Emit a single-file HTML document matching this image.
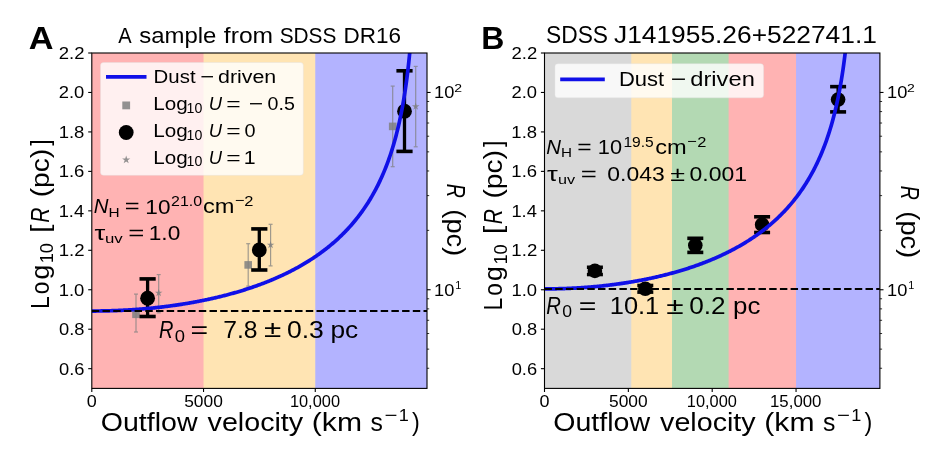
<!DOCTYPE html>
<html><head><meta charset="utf-8"><style>
html,body{margin:0;padding:0;background:#fff;overflow:hidden;}
svg{display:block;font-family:"Liberation Sans", sans-serif;font-kerning:none;will-change:transform;}
</style></head><body>
<svg width="934" height="452" viewBox="0 0 934 452">
<defs>
<clipPath id="clA"><rect x="91.8" y="53.0" width="335.2" height="335.4"/></clipPath>
<clipPath id="clB"><rect x="544.5" y="53.0" width="335.4" height="335.4"/></clipPath>
</defs>

<rect x="0" y="0" width="934" height="452" fill="#fff"/>
<rect x="91.80" y="53.00" width="335.20" height="335.40" fill="#ffb3b3"/>
<rect x="203.53" y="53.00" width="223.47" height="335.40" fill="#ffe4b3"/>
<rect x="315.27" y="53.00" width="111.73" height="335.40" fill="#b3b3ff"/>
<rect x="544.50" y="53.00" width="335.40" height="335.40" fill="#d9d9d9"/>
<rect x="631.30" y="53.00" width="248.60" height="335.40" fill="#ffe4b3"/>
<rect x="672.00" y="53.00" width="207.90" height="335.40" fill="#b3d9b3"/>
<rect x="728.60" y="53.00" width="151.30" height="335.40" fill="#ffb3b3"/>
<rect x="796.05" y="53.00" width="83.85" height="335.40" fill="#b3b3ff"/>
<g stroke="#808080" stroke-width="1.2" opacity="0.75"><line x1="136.00" y1="294.10" x2="136.00" y2="332.00"/><line x1="134.00" y1="294.10" x2="138.00" y2="294.10"/><line x1="134.00" y1="332.00" x2="138.00" y2="332.00"/></g>
<rect x="132.20" y="310.50" width="7.6" height="7.6" fill="#808080" opacity="0.85"/>
<g stroke="#808080" stroke-width="1.2" opacity="0.75"><line x1="248.20" y1="243.70" x2="248.20" y2="286.10"/><line x1="246.20" y1="243.70" x2="250.20" y2="243.70"/><line x1="246.20" y1="286.10" x2="250.20" y2="286.10"/></g>
<rect x="244.40" y="261.10" width="7.6" height="7.6" fill="#808080" opacity="0.85"/>
<g stroke="#808080" stroke-width="1.2" opacity="0.75"><line x1="392.70" y1="86.10" x2="392.70" y2="166.70"/><line x1="390.70" y1="86.10" x2="394.70" y2="86.10"/><line x1="390.70" y1="166.70" x2="394.70" y2="166.70"/></g>
<rect x="388.90" y="122.60" width="7.6" height="7.6" fill="#808080" opacity="0.85"/>
<g stroke="#808080" stroke-width="1.2" opacity="0.75"><line x1="158.70" y1="274.60" x2="158.70" y2="312.80"/><line x1="156.70" y1="274.60" x2="160.70" y2="274.60"/><line x1="156.70" y1="312.80" x2="160.70" y2="312.80"/></g>
<polygon points="158.70,288.90 159.59,291.67 162.50,291.66 160.15,293.37 161.05,296.14 158.70,294.42 156.35,296.14 157.25,293.37 154.90,291.66 157.81,291.67" fill="#808080" opacity="0.85"/>
<g stroke="#808080" stroke-width="1.2" opacity="0.75"><line x1="270.60" y1="224.30" x2="270.60" y2="265.90"/><line x1="268.60" y1="224.30" x2="272.60" y2="224.30"/><line x1="268.60" y1="265.90" x2="272.60" y2="265.90"/></g>
<polygon points="270.60,240.90 271.49,243.67 274.40,243.66 272.05,245.37 272.95,248.14 270.60,246.42 268.25,248.14 269.15,245.37 266.80,243.66 269.71,243.67" fill="#808080" opacity="0.85"/>
<g stroke="#808080" stroke-width="1.2" opacity="0.75"><line x1="415.70" y1="66.40" x2="415.70" y2="146.80"/><line x1="413.70" y1="66.40" x2="417.70" y2="66.40"/><line x1="413.70" y1="146.80" x2="417.70" y2="146.80"/></g>
<polygon points="415.70,102.50 416.59,105.27 419.50,105.26 417.15,106.97 418.05,109.74 415.70,108.02 413.35,109.74 414.25,106.97 411.90,105.26 414.81,105.27" fill="#808080" opacity="0.85"/>
<line x1="147.60" y1="316.50" x2="147.60" y2="278.90" stroke="#000" stroke-width="3.3"/>
<line x1="139.50" y1="316.50" x2="155.70" y2="316.50" stroke="#000" stroke-width="3.6"/>
<line x1="139.50" y1="278.90" x2="155.70" y2="278.90" stroke="#000" stroke-width="3.6"/>
<circle cx="147.60" cy="298.20" r="7.4" fill="#000"/>
<line x1="259.30" y1="270.00" x2="259.30" y2="228.90" stroke="#000" stroke-width="3.3"/>
<line x1="251.20" y1="270.00" x2="267.40" y2="270.00" stroke="#000" stroke-width="3.6"/>
<line x1="251.20" y1="228.90" x2="267.40" y2="228.90" stroke="#000" stroke-width="3.6"/>
<circle cx="259.30" cy="249.90" r="7.4" fill="#000"/>
<line x1="404.50" y1="151.40" x2="404.50" y2="70.80" stroke="#000" stroke-width="3.3"/>
<line x1="396.40" y1="151.40" x2="412.60" y2="151.40" stroke="#000" stroke-width="3.6"/>
<line x1="396.40" y1="70.80" x2="412.60" y2="70.80" stroke="#000" stroke-width="3.6"/>
<circle cx="404.50" cy="111.20" r="7.4" fill="#000"/>
<line x1="594.90" y1="274.50" x2="594.90" y2="267.30" stroke="#000" stroke-width="3.3"/>
<line x1="586.90" y1="274.50" x2="602.90" y2="274.50" stroke="#000" stroke-width="3.6"/>
<line x1="586.90" y1="267.30" x2="602.90" y2="267.30" stroke="#000" stroke-width="3.6"/>
<circle cx="594.90" cy="270.90" r="7.3" fill="#000"/>
<line x1="645.30" y1="292.10" x2="645.30" y2="285.50" stroke="#000" stroke-width="3.3"/>
<line x1="637.30" y1="292.10" x2="653.30" y2="292.10" stroke="#000" stroke-width="3.6"/>
<line x1="637.30" y1="285.50" x2="653.30" y2="285.50" stroke="#000" stroke-width="3.6"/>
<circle cx="645.30" cy="288.80" r="7.3" fill="#000"/>
<line x1="695.30" y1="252.40" x2="695.30" y2="238.30" stroke="#000" stroke-width="3.3"/>
<line x1="687.30" y1="252.40" x2="703.30" y2="252.40" stroke="#000" stroke-width="3.6"/>
<line x1="687.30" y1="238.30" x2="703.30" y2="238.30" stroke="#000" stroke-width="3.6"/>
<circle cx="695.30" cy="245.35" r="7.3" fill="#000"/>
<line x1="762.10" y1="232.50" x2="762.10" y2="216.80" stroke="#000" stroke-width="3.3"/>
<line x1="754.10" y1="232.50" x2="770.10" y2="232.50" stroke="#000" stroke-width="3.6"/>
<line x1="754.10" y1="216.80" x2="770.10" y2="216.80" stroke="#000" stroke-width="3.6"/>
<circle cx="762.10" cy="224.65" r="7.3" fill="#000"/>
<line x1="838.10" y1="111.90" x2="838.10" y2="86.65" stroke="#000" stroke-width="3.3"/>
<line x1="830.10" y1="111.90" x2="846.10" y2="111.90" stroke="#000" stroke-width="3.6"/>
<line x1="830.10" y1="86.65" x2="846.10" y2="86.65" stroke="#000" stroke-width="3.6"/>
<circle cx="838.10" cy="99.60" r="7.3" fill="#000"/>
<path d="M91.80,311.04 L92.64,311.04 L93.48,311.04 L94.31,311.04 L95.15,311.03 L95.99,311.03 L96.83,311.02 L97.67,311.01 L98.50,311.01 L99.34,311.00 L100.18,310.99 L101.02,310.97 L101.86,310.96 L102.69,310.95 L103.53,310.93 L104.37,310.91 L105.21,310.90 L106.05,310.88 L106.88,310.86 L107.72,310.84 L108.56,310.82 L109.40,310.79 L110.24,310.77 L111.07,310.74 L111.91,310.72 L112.75,310.69 L113.59,310.66 L114.43,310.63 L115.26,310.60 L116.10,310.56 L116.94,310.53 L117.78,310.50 L118.62,310.46 L119.45,310.42 L120.29,310.39 L121.13,310.35 L121.97,310.31 L122.81,310.26 L123.64,310.22 L124.48,310.18 L125.32,310.13 L126.16,310.09 L127.00,310.04 L127.83,309.99 L128.67,309.94 L129.51,309.89 L130.35,309.84 L131.19,309.78 L132.02,309.73 L132.86,309.67 L133.70,309.62 L134.54,309.56 L135.38,309.50 L136.21,309.44 L137.05,309.38 L137.89,309.31 L138.73,309.25 L139.57,309.18 L140.40,309.12 L141.24,309.05 L142.08,308.98 L142.92,308.91 L143.76,308.84 L144.59,308.77 L145.43,308.69 L146.27,308.62 L147.11,308.54 L147.95,308.46 L148.78,308.38 L149.62,308.30 L150.46,308.22 L151.30,308.14 L152.14,308.06 L152.97,307.97 L153.81,307.88 L154.65,307.80 L155.49,307.71 L156.33,307.62 L157.16,307.53 L158.00,307.43 L158.84,307.34 L159.68,307.25 L160.52,307.15 L161.35,307.05 L162.19,306.95 L163.03,306.85 L163.87,306.75 L164.71,306.65 L165.54,306.54 L166.38,306.44 L167.22,306.33 L168.06,306.22 L168.90,306.11 L169.73,306.00 L170.57,305.89 L171.41,305.77 L172.25,305.66 L173.09,305.54 L173.92,305.43 L174.76,305.31 L175.60,305.19 L176.44,305.06 L177.28,304.94 L178.11,304.82 L178.95,304.69 L179.79,304.56 L180.63,304.43 L181.47,304.30 L182.30,304.17 L183.14,304.04 L183.98,303.90 L184.82,303.77 L185.66,303.63 L186.49,303.49 L187.33,303.35 L188.17,303.21 L189.01,303.07 L189.85,302.92 L190.68,302.77 L191.52,302.63 L192.36,302.48 L193.20,302.33 L194.04,302.17 L194.87,302.02 L195.71,301.86 L196.55,301.71 L197.39,301.55 L198.23,301.39 L199.06,301.23 L199.90,301.06 L200.74,300.90 L201.58,300.73 L202.42,300.56 L203.25,300.39 L204.09,300.22 L204.93,300.05 L205.77,299.88 L206.61,299.70 L207.44,299.52 L208.28,299.34 L209.12,299.16 L209.96,298.98 L210.80,298.79 L211.63,298.61 L212.47,298.42 L213.31,298.23 L214.15,298.04 L214.99,297.84 L215.82,297.65 L216.66,297.45 L217.50,297.25 L218.34,297.05 L219.18,296.85 L220.01,296.65 L220.85,296.44 L221.69,296.23 L222.53,296.02 L223.37,295.81 L224.20,295.60 L225.04,295.38 L225.88,295.17 L226.72,294.95 L227.56,294.73 L228.39,294.50 L229.23,294.28 L230.07,294.05 L230.91,293.82 L231.75,293.59 L232.58,293.36 L233.42,293.13 L234.26,292.89 L235.10,292.65 L235.94,292.41 L236.77,292.17 L237.61,291.92 L238.45,291.67 L239.29,291.42 L240.13,291.17 L240.96,290.92 L241.80,290.66 L242.64,290.41 L243.48,290.14 L244.32,289.88 L245.15,289.62 L245.99,289.35 L246.83,289.08 L247.67,288.81 L248.51,288.53 L249.34,288.26 L250.18,287.98 L251.02,287.70 L251.86,287.41 L252.70,287.13 L253.53,286.84 L254.37,286.55 L255.21,286.26 L256.05,285.96 L256.89,285.66 L257.72,285.36 L258.56,285.06 L259.40,284.75 L260.24,284.44 L261.08,284.13 L261.91,283.81 L262.75,283.50 L263.59,283.18 L264.43,282.85 L265.27,282.53 L266.10,282.20 L266.94,281.87 L267.78,281.54 L268.62,281.20 L269.46,280.86 L270.29,280.52 L271.13,280.17 L271.97,279.82 L272.81,279.47 L273.65,279.11 L274.48,278.76 L275.32,278.39 L276.16,278.03 L277.00,277.66 L277.84,277.29 L278.67,276.92 L279.51,276.54 L280.35,276.16 L281.19,275.77 L282.03,275.39 L282.86,274.99 L283.70,274.60 L284.54,274.20 L285.38,273.80 L286.22,273.39 L287.05,272.98 L287.89,272.57 L288.73,272.15 L289.57,271.73 L290.41,271.31 L291.24,270.88 L292.08,270.45 L292.92,270.01 L293.76,269.57 L294.60,269.13 L295.43,268.68 L296.27,268.22 L297.11,267.77 L297.95,267.30 L298.79,266.84 L299.62,266.37 L300.46,265.89 L301.30,265.41 L302.14,264.93 L302.98,264.44 L303.81,263.94 L304.65,263.45 L305.49,262.94 L306.33,262.43 L307.17,261.92 L308.00,261.40 L308.84,260.88 L309.68,260.35 L310.52,259.81 L311.36,259.27 L312.19,258.73 L313.03,258.18 L313.87,257.62 L314.71,257.06 L315.55,256.49 L316.38,255.92 L317.22,255.33 L318.06,254.75 L318.90,254.16 L319.74,253.56 L320.57,252.95 L321.41,252.34 L322.25,251.72 L323.09,251.09 L323.93,250.46 L324.76,249.82 L325.60,249.18 L326.44,248.52 L327.28,247.86 L328.12,247.19 L328.95,246.52 L329.79,245.83 L330.63,245.14 L331.47,244.44 L332.31,243.73 L333.14,243.01 L333.98,242.29 L334.82,241.55 L335.66,240.81 L336.50,240.06 L337.33,239.30 L338.17,238.53 L339.01,237.74 L339.85,236.95 L340.69,236.15 L341.52,235.34 L342.36,234.52 L343.20,233.69 L344.04,232.85 L344.88,231.99 L345.71,231.13 L346.55,230.25 L347.39,229.36 L348.23,228.46 L349.07,227.54 L349.90,226.61 L350.74,225.67 L351.58,224.72 L352.42,223.75 L353.26,222.77 L354.09,221.77 L354.93,220.76 L355.77,219.73 L356.61,218.69 L357.45,217.63 L358.28,216.55 L359.12,215.46 L359.96,214.35 L360.80,213.22 L361.64,212.07 L362.47,210.91 L363.31,209.72 L364.15,208.51 L364.99,207.28 L365.83,206.03 L366.66,204.76 L367.50,203.47 L368.34,202.15 L369.18,200.80 L370.02,199.43 L370.85,198.04 L371.69,196.62 L372.53,195.16 L373.37,193.68 L374.21,192.17 L375.04,190.63 L375.88,189.05 L376.72,187.44 L377.56,185.79 L378.40,184.11 L379.23,182.38 L380.07,180.62 L380.91,178.82 L381.75,176.96 L382.59,175.07 L383.42,173.12 L384.26,171.13 L385.10,169.08 L385.94,166.97 L386.78,164.81 L387.61,162.58 L388.45,160.28 L389.29,157.92 L390.13,155.48 L390.97,152.97 L391.80,150.37 L392.64,147.68 L393.48,144.89 L394.32,142.01 L395.16,139.01 L395.99,135.90 L396.83,132.66 L397.67,129.29 L398.51,125.77 L399.35,122.08 L400.18,118.22 L401.02,114.17 L401.86,109.90 L402.70,105.40 L403.54,100.63 L404.37,95.57 L405.21,90.18 L406.05,84.41 L406.89,78.20 L407.73,71.49 L408.56,64.19 L409.40,56.18 L410.24,47.33 L411.08,37.43" fill="none" stroke="#1010e8" stroke-width="3.7" clip-path="url(#clA)"/>
<path d="M544.50,288.90 L545.34,288.90 L546.18,288.90 L547.02,288.89 L547.85,288.89 L548.69,288.88 L549.53,288.88 L550.37,288.87 L551.21,288.86 L552.05,288.85 L552.88,288.84 L553.72,288.82 L554.56,288.81 L555.40,288.79 L556.24,288.78 L557.08,288.76 L557.92,288.74 L558.75,288.72 L559.59,288.70 L560.43,288.67 L561.27,288.65 L562.11,288.62 L562.95,288.60 L563.79,288.57 L564.62,288.54 L565.46,288.51 L566.30,288.48 L567.14,288.44 L567.98,288.41 L568.82,288.37 L569.65,288.34 L570.49,288.30 L571.33,288.26 L572.17,288.22 L573.01,288.18 L573.85,288.13 L574.69,288.09 L575.52,288.04 L576.36,287.99 L577.20,287.95 L578.04,287.90 L578.88,287.85 L579.72,287.79 L580.56,287.74 L581.39,287.68 L582.23,287.63 L583.07,287.57 L583.91,287.51 L584.75,287.45 L585.59,287.39 L586.42,287.33 L587.26,287.26 L588.10,287.20 L588.94,287.13 L589.78,287.06 L590.62,286.99 L591.46,286.92 L592.29,286.85 L593.13,286.78 L593.97,286.70 L594.81,286.62 L595.65,286.55 L596.49,286.47 L597.33,286.39 L598.16,286.31 L599.00,286.22 L599.84,286.14 L600.68,286.05 L601.52,285.97 L602.36,285.88 L603.19,285.79 L604.03,285.70 L604.87,285.60 L605.71,285.51 L606.55,285.41 L607.39,285.32 L608.23,285.22 L609.06,285.12 L609.90,285.02 L610.74,284.92 L611.58,284.81 L612.42,284.71 L613.26,284.60 L614.10,284.49 L614.93,284.38 L615.77,284.27 L616.61,284.16 L617.45,284.04 L618.29,283.93 L619.13,283.81 L619.97,283.69 L620.80,283.57 L621.64,283.45 L622.48,283.33 L623.32,283.20 L624.16,283.08 L625.00,282.95 L625.83,282.82 L626.67,282.69 L627.51,282.56 L628.35,282.42 L629.19,282.29 L630.03,282.15 L630.87,282.01 L631.70,281.87 L632.54,281.73 L633.38,281.59 L634.22,281.44 L635.06,281.30 L635.90,281.15 L636.74,281.00 L637.57,280.85 L638.41,280.69 L639.25,280.54 L640.09,280.38 L640.93,280.23 L641.77,280.07 L642.60,279.90 L643.44,279.74 L644.28,279.58 L645.12,279.41 L645.96,279.24 L646.80,279.07 L647.64,278.90 L648.47,278.73 L649.31,278.55 L650.15,278.38 L650.99,278.20 L651.83,278.02 L652.67,277.83 L653.50,277.65 L654.34,277.46 L655.18,277.28 L656.02,277.09 L656.86,276.90 L657.70,276.70 L658.54,276.51 L659.37,276.31 L660.21,276.11 L661.05,275.91 L661.89,275.71 L662.73,275.50 L663.57,275.30 L664.41,275.09 L665.24,274.88 L666.08,274.66 L666.92,274.45 L667.76,274.23 L668.60,274.01 L669.44,273.79 L670.27,273.57 L671.11,273.35 L671.95,273.12 L672.79,272.89 L673.63,272.66 L674.47,272.42 L675.31,272.19 L676.14,271.95 L676.98,271.71 L677.82,271.47 L678.66,271.23 L679.50,270.98 L680.34,270.73 L681.18,270.48 L682.01,270.23 L682.85,269.97 L683.69,269.71 L684.53,269.45 L685.37,269.19 L686.21,268.92 L687.04,268.66 L687.88,268.39 L688.72,268.12 L689.56,267.84 L690.40,267.56 L691.24,267.28 L692.08,267.00 L692.91,266.72 L693.75,266.43 L694.59,266.14 L695.43,265.85 L696.27,265.55 L697.11,265.25 L697.95,264.95 L698.78,264.65 L699.62,264.34 L700.46,264.03 L701.30,263.72 L702.14,263.41 L702.98,263.09 L703.81,262.77 L704.65,262.45 L705.49,262.12 L706.33,261.79 L707.17,261.46 L708.01,261.13 L708.85,260.79 L709.68,260.45 L710.52,260.10 L711.36,259.76 L712.20,259.40 L713.04,259.05 L713.88,258.69 L714.72,258.33 L715.55,257.97 L716.39,257.60 L717.23,257.23 L718.07,256.86 L718.91,256.48 L719.75,256.10 L720.59,255.72 L721.42,255.33 L722.26,254.94 L723.10,254.54 L723.94,254.14 L724.78,253.74 L725.62,253.34 L726.45,252.93 L727.29,252.51 L728.13,252.09 L728.97,251.67 L729.81,251.25 L730.65,250.82 L731.49,250.38 L732.32,249.94 L733.16,249.50 L734.00,249.05 L734.84,248.60 L735.68,248.15 L736.52,247.69 L737.36,247.22 L738.19,246.75 L739.03,246.28 L739.87,245.80 L740.71,245.32 L741.55,244.83 L742.39,244.34 L743.22,243.84 L744.06,243.34 L744.90,242.83 L745.74,242.32 L746.58,241.80 L747.42,241.27 L748.26,240.75 L749.09,240.21 L749.93,239.67 L750.77,239.13 L751.61,238.57 L752.45,238.02 L753.29,237.45 L754.12,236.88 L754.96,236.31 L755.80,235.73 L756.64,235.14 L757.48,234.54 L758.32,233.94 L759.16,233.34 L759.99,232.72 L760.83,232.10 L761.67,231.47 L762.51,230.84 L763.35,230.19 L764.19,229.54 L765.03,228.89 L765.86,228.22 L766.70,227.55 L767.54,226.87 L768.38,226.18 L769.22,225.48 L770.06,224.78 L770.89,224.06 L771.73,223.34 L772.57,222.61 L773.41,221.87 L774.25,221.12 L775.09,220.36 L775.93,219.59 L776.76,218.82 L777.60,218.03 L778.44,217.23 L779.28,216.42 L780.12,215.60 L780.96,214.77 L781.80,213.93 L782.63,213.08 L783.47,212.21 L784.31,211.34 L785.15,210.45 L785.99,209.55 L786.83,208.63 L787.66,207.71 L788.50,206.77 L789.34,205.81 L790.18,204.84 L791.02,203.86 L791.86,202.87 L792.70,201.85 L793.53,200.82 L794.37,199.78 L795.21,198.72 L796.05,197.64 L796.89,196.55 L797.73,195.44 L798.57,194.31 L799.40,193.16 L800.24,191.99 L801.08,190.80 L801.92,189.59 L802.76,188.35 L803.60,187.10 L804.43,185.82 L805.27,184.52 L806.11,183.20 L806.95,181.85 L807.79,180.48 L808.63,179.07 L809.47,177.64 L810.30,176.18 L811.14,174.70 L811.98,173.17 L812.82,171.62 L813.66,170.04 L814.50,168.41 L815.34,166.76 L816.17,165.06 L817.01,163.33 L817.85,161.55 L818.69,159.73 L819.53,157.86 L820.37,155.95 L821.20,153.99 L822.04,151.97 L822.88,149.90 L823.72,147.78 L824.56,145.59 L825.40,143.34 L826.24,141.02 L827.07,138.62 L827.91,136.16 L828.75,133.61 L829.59,130.97 L830.43,128.25 L831.27,125.42 L832.11,122.49 L832.94,119.45 L833.78,116.29 L834.62,112.99 L835.46,109.56 L836.30,105.97 L837.14,102.21 L837.97,98.27 L838.81,94.12 L839.65,89.75 L840.49,85.14 L841.33,80.24 L842.17,75.04 L843.01,69.48 L843.84,63.52 L844.68,57.09 L845.52,50.12 L846.36,42.51" fill="none" stroke="#1010e8" stroke-width="3.7" clip-path="url(#clB)"/>
<line x1="91.8" y1="311.04" x2="427.0" y2="311.04" stroke="#000" stroke-width="2" stroke-dasharray="7.45 3.25" clip-path="url(#clA)"/>
<line x1="544.5" y1="288.90" x2="879.9" y2="288.90" stroke="#000" stroke-width="2" stroke-dasharray="7.45 3.25" clip-path="url(#clB)"/>
<rect x="100.50" y="62.50" width="202.80" height="112.80" rx="3" ry="3" fill="#fff" fill-opacity="0.8" stroke="#e0e0e0" stroke-opacity="0.5" stroke-width="0.8"/>
<line x1="106" y1="76.9" x2="146.5" y2="76.9" stroke="#1010e8" stroke-width="3.7"/>
<rect x="122.30" y="101.50" width="7.8" height="7.8" fill="#808080" opacity="0.85"/>
<circle cx="126.2" cy="132.5" r="7.4" fill="#000"/>
<polygon points="126.20,155.50 127.16,158.48 130.29,158.47 127.75,160.30 128.73,163.28 126.20,161.43 123.67,163.28 124.65,160.30 122.11,158.47 125.24,158.48" fill="#808080" opacity="0.85"/>
<text x="153.63" y="82.50" font-size="18.90" textLength="41.92" lengthAdjust="spacingAndGlyphs">Dust</text>
<text x="200.22" y="82.50" font-size="18.90" textLength="13.94" lengthAdjust="spacingAndGlyphs">−</text>
<text x="218.00" y="82.50" font-size="18.90" textLength="58.18" lengthAdjust="spacingAndGlyphs">driven</text>
<text x="153.31" y="109.80" font-size="18.90" textLength="34.42" lengthAdjust="spacingAndGlyphs">Log</text>
<text x="186.62" y="112.60" font-size="13.80" textLength="15.73" lengthAdjust="spacingAndGlyphs">10</text>
<text x="208.63" y="109.80" font-size="18.90" font-style="italic" textLength="13.28" lengthAdjust="spacingAndGlyphs">U</text>
<text x="226.29" y="109.80" font-size="18.90" textLength="14.42" lengthAdjust="spacingAndGlyphs">=</text>
<text x="248.78" y="109.80" font-size="18.90" textLength="14.42" lengthAdjust="spacingAndGlyphs">−</text>
<text x="267.63" y="109.80" font-size="18.90" textLength="27.29" lengthAdjust="spacingAndGlyphs">0.5</text>
<text x="153.31" y="136.70" font-size="18.90" textLength="34.42" lengthAdjust="spacingAndGlyphs">Log</text>
<text x="186.62" y="139.50" font-size="13.80" textLength="15.73" lengthAdjust="spacingAndGlyphs">10</text>
<text x="208.63" y="136.70" font-size="18.90" font-style="italic" textLength="13.28" lengthAdjust="spacingAndGlyphs">U</text>
<text x="226.29" y="136.70" font-size="18.90" textLength="14.42" lengthAdjust="spacingAndGlyphs">=</text>
<text x="244.62" y="136.70" font-size="18.90" textLength="11.05" lengthAdjust="spacingAndGlyphs">0</text>
<text x="153.31" y="163.50" font-size="18.90" textLength="34.42" lengthAdjust="spacingAndGlyphs">Log</text>
<text x="186.62" y="166.30" font-size="13.80" textLength="15.73" lengthAdjust="spacingAndGlyphs">10</text>
<text x="208.63" y="163.50" font-size="18.90" font-style="italic" textLength="13.28" lengthAdjust="spacingAndGlyphs">U</text>
<text x="226.29" y="163.50" font-size="18.90" textLength="14.42" lengthAdjust="spacingAndGlyphs">=</text>
<text x="243.77" y="163.50" font-size="18.90" textLength="11.87" lengthAdjust="spacingAndGlyphs">1</text>
<rect x="554.90" y="63.70" width="208.70" height="34.10" rx="3" ry="3" fill="#fff" fill-opacity="0.8" stroke="#e0e0e0" stroke-opacity="0.5" stroke-width="0.8"/>
<line x1="560.2" y1="79.3" x2="604.8" y2="79.3" stroke="#1010e8" stroke-width="3.7"/>
<text x="619.00" y="85.60" font-size="20.50" textLength="45.16" lengthAdjust="spacingAndGlyphs">Dust</text>
<text x="670.69" y="85.60" font-size="20.50" textLength="15.51" lengthAdjust="spacingAndGlyphs">−</text>
<text x="690.31" y="85.60" font-size="20.50" textLength="64.53" lengthAdjust="spacingAndGlyphs">driven</text>
<text x="93.67" y="213.40" font-size="20.50" font-style="italic" textLength="14.72" lengthAdjust="spacingAndGlyphs">N</text>
<text x="108.44" y="216.80" font-size="13.70" textLength="11.12" lengthAdjust="spacingAndGlyphs">H</text>
<text x="124.75" y="213.40" font-size="20.50" textLength="14.90" lengthAdjust="spacingAndGlyphs">=</text>
<text x="145.38" y="213.60" font-size="20.50" textLength="25.10" lengthAdjust="spacingAndGlyphs">10</text>
<text x="171.10" y="206.10" font-size="14.50" textLength="31.02" lengthAdjust="spacingAndGlyphs">21.0</text>
<text x="202.90" y="213.40" font-size="20.50" textLength="31.46" lengthAdjust="spacingAndGlyphs">cm</text>
<text x="234.69" y="205.46" font-size="13.70" textLength="9.62" lengthAdjust="spacingAndGlyphs">−</text>
<text x="244.27" y="206.00" font-size="14.50" textLength="9.16" lengthAdjust="spacingAndGlyphs">2</text>
<text x="94.41" y="239.80" font-size="20.50" textLength="10.81" lengthAdjust="spacingAndGlyphs">τ</text>
<text x="105.01" y="243.00" font-size="13.70" textLength="17.75" lengthAdjust="spacingAndGlyphs">uv</text>
<text x="128.25" y="239.80" font-size="20.50" textLength="16.11" lengthAdjust="spacingAndGlyphs">=</text>
<text x="148.77" y="239.80" font-size="20.50" textLength="31.51" lengthAdjust="spacingAndGlyphs">1.0</text>
<text x="158.89" y="337.60" font-size="23.40" font-style="italic" textLength="14.43" lengthAdjust="spacingAndGlyphs">R</text>
<text x="174.88" y="341.50" font-size="16.30" textLength="10.24" lengthAdjust="spacingAndGlyphs">0</text>
<text x="190.62" y="337.60" font-size="23.40" textLength="17.67" lengthAdjust="spacingAndGlyphs">=</text>
<text x="223.23" y="337.60" font-size="23.40" textLength="34.34" lengthAdjust="spacingAndGlyphs">7.8</text>
<text x="264.00" y="337.40" font-size="23.40" textLength="17.28" lengthAdjust="spacingAndGlyphs">±</text>
<text x="286.96" y="337.60" font-size="23.40" textLength="36.90" lengthAdjust="spacingAndGlyphs">0.3</text>
<text x="330.40" y="337.60" font-size="23.40" textLength="27.79" lengthAdjust="spacingAndGlyphs">pc</text>
<text x="546.27" y="154.00" font-size="20.50" font-style="italic" textLength="14.72" lengthAdjust="spacingAndGlyphs">N</text>
<text x="561.05" y="157.40" font-size="13.70" textLength="10.99" lengthAdjust="spacingAndGlyphs">H</text>
<text x="577.29" y="154.00" font-size="20.50" textLength="14.42" lengthAdjust="spacingAndGlyphs">=</text>
<text x="597.84" y="154.30" font-size="20.50" textLength="24.21" lengthAdjust="spacingAndGlyphs">10</text>
<text x="623.41" y="146.90" font-size="14.50" textLength="30.34" lengthAdjust="spacingAndGlyphs">19.5</text>
<text x="655.20" y="153.90" font-size="20.50" textLength="31.46" lengthAdjust="spacingAndGlyphs">cm</text>
<text x="686.99" y="146.16" font-size="13.70" textLength="9.62" lengthAdjust="spacingAndGlyphs">−</text>
<text x="697.17" y="146.90" font-size="14.50" textLength="9.16" lengthAdjust="spacingAndGlyphs">2</text>
<text x="546.91" y="180.60" font-size="20.50" textLength="10.81" lengthAdjust="spacingAndGlyphs">τ</text>
<text x="558.05" y="183.60" font-size="13.70" textLength="17.11" lengthAdjust="spacingAndGlyphs">uv</text>
<text x="580.75" y="180.60" font-size="20.50" textLength="16.11" lengthAdjust="spacingAndGlyphs">=</text>
<text x="607.30" y="180.60" font-size="20.50" textLength="57.40" lengthAdjust="spacingAndGlyphs">0.043</text>
<text x="670.24" y="180.60" font-size="20.50" textLength="14.80" lengthAdjust="spacingAndGlyphs">±</text>
<text x="689.50" y="180.60" font-size="20.50" textLength="57.52" lengthAdjust="spacingAndGlyphs">0.001</text>
<text x="546.28" y="313.80" font-size="23.40" font-style="italic" textLength="14.65" lengthAdjust="spacingAndGlyphs">R</text>
<text x="562.21" y="317.00" font-size="16.30" textLength="9.77" lengthAdjust="spacingAndGlyphs">0</text>
<text x="578.82" y="313.80" font-size="23.40" textLength="17.67" lengthAdjust="spacingAndGlyphs">=</text>
<text x="609.76" y="313.80" font-size="23.40" textLength="49.48" lengthAdjust="spacingAndGlyphs">10.1</text>
<text x="666.19" y="313.60" font-size="23.40" textLength="17.40" lengthAdjust="spacingAndGlyphs">±</text>
<text x="689.28" y="313.80" font-size="23.40" textLength="36.44" lengthAdjust="spacingAndGlyphs">0.2</text>
<text x="733.03" y="313.80" font-size="23.40" textLength="27.35" lengthAdjust="spacingAndGlyphs">pc</text>
<rect x="91.80" y="53.00" width="335.20" height="335.40" fill="none" stroke="#000" stroke-width="1.1"/>
<line x1="88.20" y1="368.67" x2="91.80" y2="368.67" stroke="#000" stroke-width="1.1"/>
<text x="58.99" y="374.67" font-size="16.10" textLength="25.42" lengthAdjust="spacingAndGlyphs">0.6</text>
<line x1="88.20" y1="329.21" x2="91.80" y2="329.21" stroke="#000" stroke-width="1.1"/>
<text x="58.99" y="335.21" font-size="16.10" textLength="25.41" lengthAdjust="spacingAndGlyphs">0.8</text>
<line x1="88.20" y1="289.75" x2="91.80" y2="289.75" stroke="#000" stroke-width="1.1"/>
<text x="58.70" y="295.75" font-size="16.10" textLength="25.62" lengthAdjust="spacingAndGlyphs">1.0</text>
<line x1="88.20" y1="250.29" x2="91.80" y2="250.29" stroke="#000" stroke-width="1.1"/>
<text x="58.68" y="256.29" font-size="16.10" textLength="25.85" lengthAdjust="spacingAndGlyphs">1.2</text>
<line x1="88.20" y1="210.84" x2="91.80" y2="210.84" stroke="#000" stroke-width="1.1"/>
<text x="58.71" y="216.84" font-size="16.10" textLength="25.43" lengthAdjust="spacingAndGlyphs">1.4</text>
<line x1="88.20" y1="171.38" x2="91.80" y2="171.38" stroke="#000" stroke-width="1.1"/>
<text x="58.69" y="177.38" font-size="16.10" textLength="25.72" lengthAdjust="spacingAndGlyphs">1.6</text>
<line x1="88.20" y1="131.92" x2="91.80" y2="131.92" stroke="#000" stroke-width="1.1"/>
<text x="58.69" y="137.92" font-size="16.10" textLength="25.71" lengthAdjust="spacingAndGlyphs">1.8</text>
<line x1="88.20" y1="92.46" x2="91.80" y2="92.46" stroke="#000" stroke-width="1.1"/>
<text x="58.78" y="98.46" font-size="16.10" textLength="25.54" lengthAdjust="spacingAndGlyphs">2.0</text>
<line x1="88.20" y1="53.00" x2="91.80" y2="53.00" stroke="#000" stroke-width="1.1"/>
<text x="58.77" y="59.00" font-size="16.10" textLength="25.76" lengthAdjust="spacingAndGlyphs">2.2</text>
<line x1="427.00" y1="289.75" x2="430.60" y2="289.75" stroke="#000" stroke-width="1.1"/>
<text x="434.11" y="295.75" font-size="16.50" textLength="20.30" lengthAdjust="spacingAndGlyphs">10</text>
<text x="455.37" y="289.25" font-size="11.60" textLength="6.06" lengthAdjust="spacingAndGlyphs">1</text>
<line x1="427.00" y1="92.46" x2="430.60" y2="92.46" stroke="#000" stroke-width="1.1"/>
<text x="434.11" y="98.46" font-size="16.50" textLength="20.30" lengthAdjust="spacingAndGlyphs">10</text>
<text x="454.19" y="91.96" font-size="11.60" textLength="7.81" lengthAdjust="spacingAndGlyphs">2</text>
<line x1="427.00" y1="368.26" x2="429.20" y2="368.26" stroke="#000" stroke-width="0.8"/>
<line x1="427.00" y1="349.14" x2="429.20" y2="349.14" stroke="#000" stroke-width="0.8"/>
<line x1="427.00" y1="333.52" x2="429.20" y2="333.52" stroke="#000" stroke-width="0.8"/>
<line x1="427.00" y1="320.31" x2="429.20" y2="320.31" stroke="#000" stroke-width="0.8"/>
<line x1="427.00" y1="308.87" x2="429.20" y2="308.87" stroke="#000" stroke-width="0.8"/>
<line x1="427.00" y1="298.78" x2="429.20" y2="298.78" stroke="#000" stroke-width="0.8"/>
<line x1="427.00" y1="230.36" x2="429.20" y2="230.36" stroke="#000" stroke-width="0.8"/>
<line x1="427.00" y1="195.62" x2="429.20" y2="195.62" stroke="#000" stroke-width="0.8"/>
<line x1="427.00" y1="170.97" x2="429.20" y2="170.97" stroke="#000" stroke-width="0.8"/>
<line x1="427.00" y1="151.85" x2="429.20" y2="151.85" stroke="#000" stroke-width="0.8"/>
<line x1="427.00" y1="136.23" x2="429.20" y2="136.23" stroke="#000" stroke-width="0.8"/>
<line x1="427.00" y1="123.02" x2="429.20" y2="123.02" stroke="#000" stroke-width="0.8"/>
<line x1="427.00" y1="111.58" x2="429.20" y2="111.58" stroke="#000" stroke-width="0.8"/>
<line x1="427.00" y1="101.49" x2="429.20" y2="101.49" stroke="#000" stroke-width="0.8"/>
<line x1="91.80" y1="388.40" x2="91.80" y2="392.00" stroke="#000" stroke-width="1.1"/>
<text x="86.80" y="407.00" font-size="15.60" textLength="10.01" lengthAdjust="spacingAndGlyphs">0</text>
<line x1="203.53" y1="388.40" x2="203.53" y2="392.00" stroke="#000" stroke-width="1.1"/>
<text x="184.19" y="407.00" font-size="15.60" textLength="38.68" lengthAdjust="spacingAndGlyphs">5000</text>
<line x1="315.27" y1="388.40" x2="315.27" y2="392.00" stroke="#000" stroke-width="1.1"/>
<text x="289.92" y="407.00" font-size="15.60" textLength="50.09" lengthAdjust="spacingAndGlyphs">10,000</text>
<rect x="544.50" y="53.00" width="335.40" height="335.40" fill="none" stroke="#000" stroke-width="1.1"/>
<line x1="540.90" y1="368.67" x2="544.50" y2="368.67" stroke="#000" stroke-width="1.1"/>
<text x="511.69" y="374.67" font-size="16.10" textLength="25.42" lengthAdjust="spacingAndGlyphs">0.6</text>
<line x1="540.90" y1="329.21" x2="544.50" y2="329.21" stroke="#000" stroke-width="1.1"/>
<text x="511.69" y="335.21" font-size="16.10" textLength="25.41" lengthAdjust="spacingAndGlyphs">0.8</text>
<line x1="540.90" y1="289.75" x2="544.50" y2="289.75" stroke="#000" stroke-width="1.1"/>
<text x="511.40" y="295.75" font-size="16.10" textLength="25.62" lengthAdjust="spacingAndGlyphs">1.0</text>
<line x1="540.90" y1="250.29" x2="544.50" y2="250.29" stroke="#000" stroke-width="1.1"/>
<text x="511.38" y="256.29" font-size="16.10" textLength="25.85" lengthAdjust="spacingAndGlyphs">1.2</text>
<line x1="540.90" y1="210.84" x2="544.50" y2="210.84" stroke="#000" stroke-width="1.1"/>
<text x="511.41" y="216.84" font-size="16.10" textLength="25.43" lengthAdjust="spacingAndGlyphs">1.4</text>
<line x1="540.90" y1="171.38" x2="544.50" y2="171.38" stroke="#000" stroke-width="1.1"/>
<text x="511.39" y="177.38" font-size="16.10" textLength="25.72" lengthAdjust="spacingAndGlyphs">1.6</text>
<line x1="540.90" y1="131.92" x2="544.50" y2="131.92" stroke="#000" stroke-width="1.1"/>
<text x="511.39" y="137.92" font-size="16.10" textLength="25.71" lengthAdjust="spacingAndGlyphs">1.8</text>
<line x1="540.90" y1="92.46" x2="544.50" y2="92.46" stroke="#000" stroke-width="1.1"/>
<text x="511.48" y="98.46" font-size="16.10" textLength="25.54" lengthAdjust="spacingAndGlyphs">2.0</text>
<line x1="540.90" y1="53.00" x2="544.50" y2="53.00" stroke="#000" stroke-width="1.1"/>
<text x="511.47" y="59.00" font-size="16.10" textLength="25.76" lengthAdjust="spacingAndGlyphs">2.2</text>
<line x1="879.90" y1="289.75" x2="883.50" y2="289.75" stroke="#000" stroke-width="1.1"/>
<text x="887.01" y="295.75" font-size="16.50" textLength="20.30" lengthAdjust="spacingAndGlyphs">10</text>
<text x="908.27" y="289.25" font-size="11.60" textLength="6.06" lengthAdjust="spacingAndGlyphs">1</text>
<line x1="879.90" y1="92.46" x2="883.50" y2="92.46" stroke="#000" stroke-width="1.1"/>
<text x="887.01" y="98.46" font-size="16.50" textLength="20.30" lengthAdjust="spacingAndGlyphs">10</text>
<text x="907.09" y="91.96" font-size="11.60" textLength="7.81" lengthAdjust="spacingAndGlyphs">2</text>
<line x1="879.90" y1="368.26" x2="882.10" y2="368.26" stroke="#000" stroke-width="0.8"/>
<line x1="879.90" y1="349.14" x2="882.10" y2="349.14" stroke="#000" stroke-width="0.8"/>
<line x1="879.90" y1="333.52" x2="882.10" y2="333.52" stroke="#000" stroke-width="0.8"/>
<line x1="879.90" y1="320.31" x2="882.10" y2="320.31" stroke="#000" stroke-width="0.8"/>
<line x1="879.90" y1="308.87" x2="882.10" y2="308.87" stroke="#000" stroke-width="0.8"/>
<line x1="879.90" y1="298.78" x2="882.10" y2="298.78" stroke="#000" stroke-width="0.8"/>
<line x1="879.90" y1="230.36" x2="882.10" y2="230.36" stroke="#000" stroke-width="0.8"/>
<line x1="879.90" y1="195.62" x2="882.10" y2="195.62" stroke="#000" stroke-width="0.8"/>
<line x1="879.90" y1="170.97" x2="882.10" y2="170.97" stroke="#000" stroke-width="0.8"/>
<line x1="879.90" y1="151.85" x2="882.10" y2="151.85" stroke="#000" stroke-width="0.8"/>
<line x1="879.90" y1="136.23" x2="882.10" y2="136.23" stroke="#000" stroke-width="0.8"/>
<line x1="879.90" y1="123.02" x2="882.10" y2="123.02" stroke="#000" stroke-width="0.8"/>
<line x1="879.90" y1="111.58" x2="882.10" y2="111.58" stroke="#000" stroke-width="0.8"/>
<line x1="879.90" y1="101.49" x2="882.10" y2="101.49" stroke="#000" stroke-width="0.8"/>
<line x1="544.50" y1="388.40" x2="544.50" y2="392.00" stroke="#000" stroke-width="1.1"/>
<text x="539.50" y="407.00" font-size="15.60" textLength="10.01" lengthAdjust="spacingAndGlyphs">0</text>
<line x1="628.35" y1="388.40" x2="628.35" y2="392.00" stroke="#000" stroke-width="1.1"/>
<text x="609.00" y="407.00" font-size="15.60" textLength="38.68" lengthAdjust="spacingAndGlyphs">5000</text>
<line x1="712.20" y1="388.40" x2="712.20" y2="392.00" stroke="#000" stroke-width="1.1"/>
<text x="686.85" y="407.00" font-size="15.60" textLength="50.09" lengthAdjust="spacingAndGlyphs">10,000</text>
<line x1="796.05" y1="388.40" x2="796.05" y2="392.00" stroke="#000" stroke-width="1.1"/>
<text x="770.02" y="407.00" font-size="15.60" textLength="51.44" lengthAdjust="spacingAndGlyphs">15,000</text>
<text x="28.75" y="48.70" font-size="31.90" font-weight="bold" textLength="24.76" lengthAdjust="spacingAndGlyphs">A</text>
<text x="481.16" y="48.70" font-size="31.90" font-weight="bold" textLength="23.09" lengthAdjust="spacingAndGlyphs">B</text>
<text x="118.36" y="43.30" font-size="21.80" textLength="13.38" lengthAdjust="spacingAndGlyphs">A</text>
<text x="139.23" y="43.30" font-size="21.80" textLength="77.23" lengthAdjust="spacingAndGlyphs">sample</text>
<text x="223.85" y="43.30" font-size="21.80" textLength="49.27" lengthAdjust="spacingAndGlyphs">from</text>
<text x="279.65" y="43.30" font-size="21.80" textLength="56.80" lengthAdjust="spacingAndGlyphs">SDSS</text>
<text x="343.45" y="43.30" font-size="21.80" textLength="57.53" lengthAdjust="spacingAndGlyphs">DR16</text>
<text x="546.07" y="43.40" font-size="24.40" textLength="61.98" lengthAdjust="spacingAndGlyphs">SDSS</text>
<text x="613.99" y="43.40" font-size="24.40" textLength="262.90" lengthAdjust="spacingAndGlyphs">J141955.26+522741.1</text>
<text x="100.75" y="430.50" font-size="25.50" textLength="96.78" lengthAdjust="spacingAndGlyphs">Outflow</text>
<text x="207.60" y="430.50" font-size="25.50" textLength="95.55" lengthAdjust="spacingAndGlyphs">velocity</text>
<text x="311.83" y="430.50" font-size="25.50" textLength="50.15" lengthAdjust="spacingAndGlyphs">(km</text>
<text x="370.51" y="430.50" font-size="25.50" textLength="12.38" lengthAdjust="spacingAndGlyphs">s</text>
<text x="412.06" y="430.50" font-size="25.50" textLength="7.79" lengthAdjust="spacingAndGlyphs">)</text>
<text x="384.40" y="421.45" font-size="17.00" textLength="12.98" lengthAdjust="spacingAndGlyphs">−</text>
<text x="398.82" y="421.40" font-size="16.60" textLength="10.06" lengthAdjust="spacingAndGlyphs">1</text>
<text x="553.25" y="430.50" font-size="25.50" textLength="96.78" lengthAdjust="spacingAndGlyphs">Outflow</text>
<text x="660.10" y="430.50" font-size="25.50" textLength="95.55" lengthAdjust="spacingAndGlyphs">velocity</text>
<text x="764.33" y="430.50" font-size="25.50" textLength="50.15" lengthAdjust="spacingAndGlyphs">(km</text>
<text x="823.01" y="430.50" font-size="25.50" textLength="12.38" lengthAdjust="spacingAndGlyphs">s</text>
<text x="864.56" y="430.50" font-size="25.50" textLength="7.79" lengthAdjust="spacingAndGlyphs">)</text>
<text x="836.90" y="421.45" font-size="17.00" textLength="12.98" lengthAdjust="spacingAndGlyphs">−</text>
<text x="851.32" y="421.40" font-size="16.60" textLength="10.06" lengthAdjust="spacingAndGlyphs">1</text>
<text transform="translate(48.60,307.20) rotate(-90)" x="-1.90" y="0" font-size="25.00" textLength="12.87" lengthAdjust="spacingAndGlyphs">L</text>
<text transform="translate(48.60,293.40) rotate(-90)" x="-0.95" y="0" font-size="25.00" textLength="12.60" lengthAdjust="spacingAndGlyphs">o</text>
<text transform="translate(48.60,278.50) rotate(-90)" x="-1.12" y="0" font-size="25.00" textLength="14.84" lengthAdjust="spacingAndGlyphs">g</text>
<text transform="translate(52.90,261.90) rotate(-90)" x="-1.39" y="0" font-size="19.00" textLength="20.30" lengthAdjust="spacingAndGlyphs">10</text>
<text transform="translate(48.60,230.90) rotate(-90)" x="-2.15" y="0" font-size="25.00" textLength="8.39" lengthAdjust="spacingAndGlyphs">[</text>
<text transform="translate(48.60,222.20) rotate(-90)" x="-0.65" y="0" font-size="25.00" font-style="italic" textLength="15.19" lengthAdjust="spacingAndGlyphs">R</text>
<text transform="translate(48.60,195.50) rotate(-90)" x="-1.75" y="0" font-size="25.00" textLength="48.49" lengthAdjust="spacingAndGlyphs">(pc)</text>
<text transform="translate(48.60,145.50) rotate(-90)" x="-0.18" y="0" font-size="25.00" textLength="6.29" lengthAdjust="spacingAndGlyphs">]</text>
<text transform="translate(502.20,308.50) rotate(-90)" x="-1.90" y="0" font-size="25.00" textLength="12.87" lengthAdjust="spacingAndGlyphs">L</text>
<text transform="translate(502.20,294.70) rotate(-90)" x="-0.95" y="0" font-size="25.00" textLength="12.60" lengthAdjust="spacingAndGlyphs">o</text>
<text transform="translate(502.20,279.80) rotate(-90)" x="-1.12" y="0" font-size="25.00" textLength="14.84" lengthAdjust="spacingAndGlyphs">g</text>
<text transform="translate(506.50,263.20) rotate(-90)" x="-1.39" y="0" font-size="19.00" textLength="20.30" lengthAdjust="spacingAndGlyphs">10</text>
<text transform="translate(502.20,232.20) rotate(-90)" x="-2.15" y="0" font-size="25.00" textLength="8.39" lengthAdjust="spacingAndGlyphs">[</text>
<text transform="translate(502.20,223.50) rotate(-90)" x="-0.65" y="0" font-size="25.00" font-style="italic" textLength="15.19" lengthAdjust="spacingAndGlyphs">R</text>
<text transform="translate(502.20,196.80) rotate(-90)" x="-1.75" y="0" font-size="25.00" textLength="48.49" lengthAdjust="spacingAndGlyphs">(pc)</text>
<text transform="translate(502.20,146.80) rotate(-90)" x="-0.18" y="0" font-size="25.00" textLength="6.29" lengthAdjust="spacingAndGlyphs">]</text>
<text transform="translate(447.20,184.30) rotate(90)" x="-0.60" y="0" font-size="25.00" font-style="italic" textLength="14.10" lengthAdjust="spacingAndGlyphs">R</text>
<text transform="translate(447.20,211.00) rotate(90)" x="-1.69" y="0" font-size="25.00" textLength="46.88" lengthAdjust="spacingAndGlyphs">(pc)</text>
<text transform="translate(900.90,186.30) rotate(90)" x="-0.60" y="0" font-size="25.00" font-style="italic" textLength="14.10" lengthAdjust="spacingAndGlyphs">R</text>
<text transform="translate(900.90,213.00) rotate(90)" x="-1.69" y="0" font-size="25.00" textLength="46.88" lengthAdjust="spacingAndGlyphs">(pc)</text>

</svg></body></html>
